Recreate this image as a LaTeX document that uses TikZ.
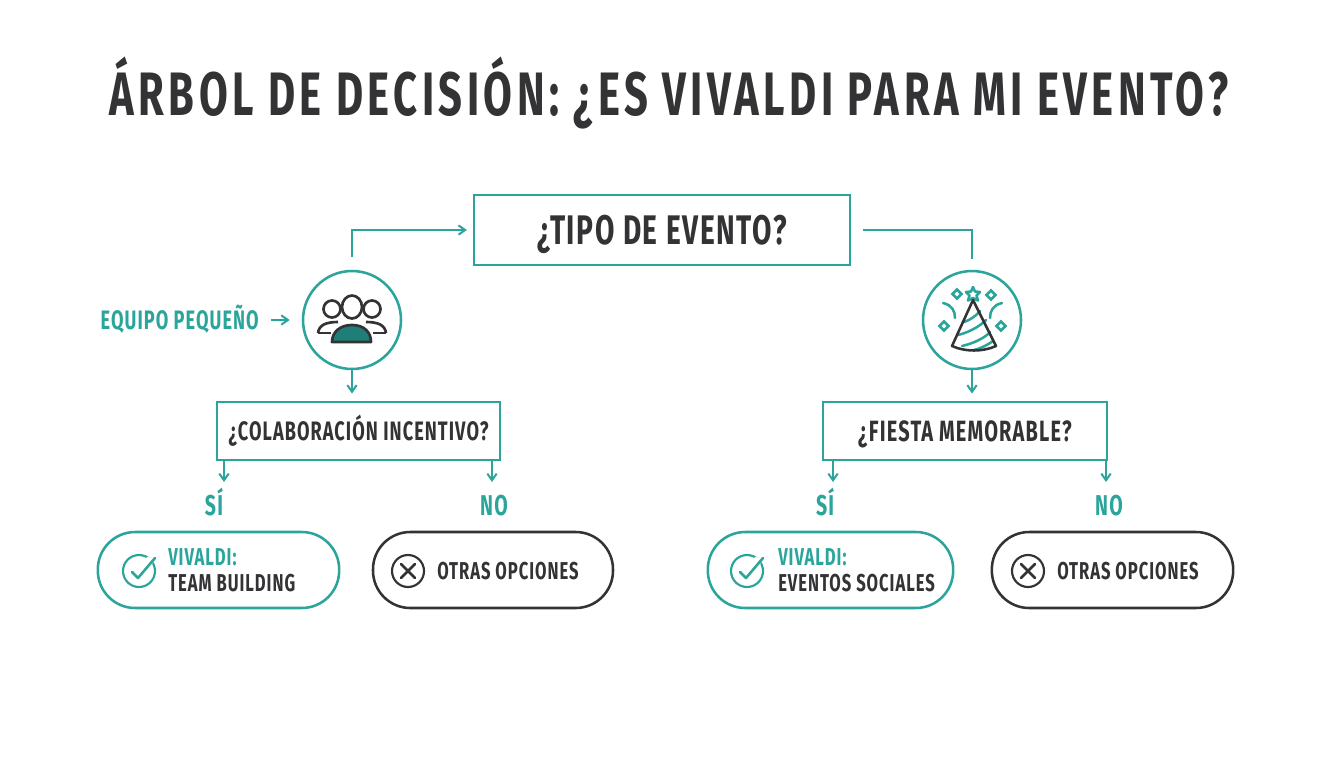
\documentclass[tikz,border=0pt]{standalone}
\usepackage{fontspec}
\usepackage{xcolor}
\usetikzlibrary{arrows.meta}
\setmainfont[FakeStretch=0.68,LetterSpace=4]{Fira Sans}
\newfontfamily\titlefont[FakeStretch=0.68,LetterSpace=7.3]{Fira Sans}
\definecolor{tealline}{HTML}{2BA59B}
\definecolor{tealfill}{HTML}{1F7F78}
\definecolor{darkline}{HTML}{333336}

\begin{document}
\begin{tikzpicture}[x=0.75pt,y=-0.75pt,
		>={Straight Barb[length=5pt,width=7pt]},
		link/.style={draw=tealline, line width=1.5pt},
		capsline/.style={text height=#1*0.75pt, text depth=#1*0.06pt, font=\fontsize{#1}{#1}\selectfont\bfseries},
		qbox/.style={rectangle, draw=tealline, line width=1.7pt, minimum height=43.5pt, text=darkline},
		round/.style={circle, draw=tealline, line width=1.9pt, minimum size=73.5pt, inner sep=0pt},
		pillyes/.style={rectangle, rounded corners=28pt, draw=tealline, line width=1.9pt, minimum height=57pt},
		pillno/.style={pillyes, draw=darkline},
		answer/.style={capsline=21.5, text=tealline},
		pilltext/.style={anchor=west, align=left, inner sep=0pt, text=darkline, font=\fontsize{18.3}{19.5}\selectfont\bfseries},
		iconmark/.style={circle, line width=1.6pt, minimum size=24pt, inner sep=0pt}]
	\useasboundingbox (0,0) rectangle (1344,768);
	\fill[white] (0,0) rectangle (1344,768);

	\node[text height=34.5pt, text depth=2.8pt, text=darkline, font=\titlefont\fontsize{46}{50}\selectfont\bfseries] (title) at (669,94) {ÁRBOL DE DECISIÓN: ¿ES VIVALDI PARA MI EVENTO?};

	\node[qbox, capsline=31, minimum width=282pt, minimum height=52pt] (root) at (662,230) {¿TIPO DE EVENTO?};
	\node[round] (team) at (352,320) {};
	\node[round] (party) at (972,320) {};
	\node[capsline=20, text=tealline, anchor=east, inner sep=0pt] (small) at (259,320) {EQUIPO PEQUEÑO};

	\node[qbox, capsline=20, minimum width=212pt] (qteam) at (358.5,431) {¿COLABORACIÓN INCENTIVO?};
	\node[qbox, capsline=22, minimum width=213pt] (qparty) at (965,431) {¿FIESTA MEMORABLE?};

	\node[answer] (yes1) at (214,506) {SÍ};
	\node[answer] (no1) at (494,506) {NO};
	\node[answer] (yes2) at (825,506) {SÍ};
	\node[answer] (no2) at (1109,506) {NO};

	\node[pillyes, minimum width=181pt] (pill1) at (218.5,570) {};
	\node[pillno, minimum width=180pt] (pill2) at (493,570) {};
	\node[pillyes, minimum width=184pt] (pill3) at (830.5,570) {};
	\node[pillno, minimum width=181pt] (pill4) at (1112.5,570) {};

	% inside the pills
	\node[iconmark, draw=tealline] (check1) at (139,571) {};
	\node[iconmark, draw=darkline] (cross1) at (408,571) {};
	\node[iconmark, draw=tealline] (check2) at (747,571) {};
	\node[iconmark, draw=darkline] (cross2) at (1028,571) {};
	\node[pilltext] (txt1) at (168,570) {\textcolor{tealline}{VIVALDI:}\\TEAM BUILDING};
	\node[pilltext] (txt2) at (437,571) {OTRAS OPCIONES};
	\node[pilltext] (txt3) at (778,570) {\textcolor{tealline}{VIVALDI:}\\EVENTOS SOCIALES};
	\node[pilltext] (txt4) at (1057,571) {OTRAS OPCIONES};

	\foreach \cx in {139,747} {
		\fill[white] (\cx+9,562) circle (5);
		\draw[tealline, line width=1.9pt, line join=round, line cap=round] (\cx-7,572) -- (\cx-1,578) -- (\cx+16,558);
	}
	\foreach \cx in {408,1028} {
		\draw[darkline, line width=1.9pt, line cap=round] (\cx-7,564) -- (\cx+7,578) (\cx-7,578) -- (\cx+7,564);
	}

	% connectors
	\draw[link, ->, shorten <=9.5pt, shorten >=4.5pt] (team.north) |- (root.west);
	\draw[link, shorten <=9pt] (root.east) -| ([yshift=8pt]party.north);
	\draw[link, ->, shorten <=9pt, shorten >=9pt] (small.east) -- (team.west);
	\draw[link, ->, shorten >=5.5pt] (team.south) -- (team.south |- qteam.north);
	\draw[link, ->, shorten >=5.5pt] (party.south) -- (party.south |- qparty.north);

	\coordinate (y1) at (224,482);
	\coordinate (n1) at (492,482);
	\coordinate (y2) at (833,482);
	\coordinate (n2) at (1106,482);
	\path[every edge/.style={link, draw, ->}]
		(y1 |- qteam.south) edge (y1)
		(n1 |- qteam.south) edge (n1)
		(y2 |- qparty.south) edge (y2)
		(n2 |- qparty.south) edge (n2);

	% people icon
	\begin{scope}[darkline, line width=2pt, line join=round]
		\draw[fill=white] (332,309) circle (8.5);
		\draw[fill=white] (372,309) circle (8.5);
		\draw (318,333) .. controls (319,325) and (326,322) .. (338,322);
		\draw (318,333) -- (331,333);
		\draw (386,333) .. controls (385,325) and (378,322) .. (366,322);
		\draw (386,333) -- (373,333);
		\draw[fill=white] (352,307) ellipse (10 and 11.5);
		\draw[fill=tealfill] (332,342) .. controls (332,332) and (340,325) .. (352,325) .. controls (364,325) and (371,332) .. (371,342) -- cycle;
	\end{scope}

	% party hat
	\begin{scope}[line width=1.9pt, line cap=round]
		\begin{scope}[tealline]
			\draw (958,335) .. controls (970,332) and (980,326) .. (986,320);
			\draw (962,346) .. controls (975,343) and (986,337) .. (990,332);
			\draw (964,322) .. controls (970,320) and (976,316) .. (980,311);
			\draw (974,350) .. controls (982,348) and (989,344) .. (993,341);
			\draw (943,303) .. controls (952,305) and (955,311) .. (955,318);
			\draw (1002,303) .. controls (993,305) and (990,311) .. (990,318);
			\foreach \dx/\dy in {957/294,991/295,944/326,1001/326} {
				\draw (\dx,\dy-4.5) -- (\dx+4.5,\dy) -- (\dx,\dy+4.5) -- (\dx-4.5,\dy) -- cycle;
			}
			\draw[line join=round] (973,287) -- (975,291.5) -- (980,292) -- (976.5,295.5) -- (978,300.5) -- (973,298) -- (968,300.5) -- (969.5,295.5) -- (966,292) -- (971,291.5) -- cycle;
		\end{scope}
		\draw[darkline, line join=round] (973,300) -- (952,346) .. controls (965,352) and (983,352) .. (996,346) -- cycle;
	\end{scope}
\end{tikzpicture}
\end{document}
